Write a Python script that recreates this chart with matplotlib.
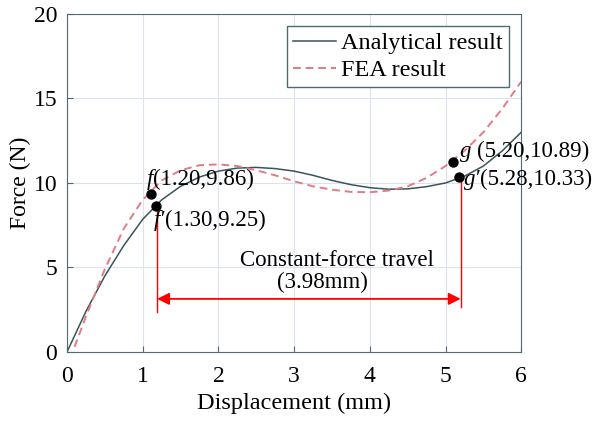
import matplotlib
matplotlib.use("Agg")
import matplotlib.pyplot as plt
import numpy as np

plt.rcParams['font.family'] = ['Liberation Serif', 'DejaVu Serif']

# analytical curve
x_ana = [0, 0.25, 0.5, 0.75, 1.0, 1.25, 1.5, 1.75, 2.0, 2.25, 2.5, 2.75, 3.0,
         3.25, 3.5, 3.75, 4.0, 4.25, 4.5, 4.75, 5.0, 5.25, 5.5, 5.75, 6.0]
y_ana = [0, 2.4, 4.5, 6.3, 7.85, 9.0, 9.8, 10.35, 10.7, 10.88, 10.92, 10.85, 10.7,
         10.45, 10.15, 9.9, 9.72, 9.63, 9.65, 9.78, 10.0, 10.4, 11.0, 11.9, 13.0]

# FEA curve
x_fea = [0.1, 0.25, 0.5, 0.75, 1.0, 1.25, 1.5, 1.75, 2.0, 2.25, 2.5, 2.75, 3.0,
         3.25, 3.5, 3.75, 4.0, 4.25, 4.5, 4.75, 5.0, 5.25, 5.5, 5.75, 6.0]
y_fea = [0.3, 2.1, 4.9, 7.3, 9.0, 10.15, 10.75, 11.05, 11.1, 11.0, 10.75, 10.45, 10.1,
         9.8, 9.6, 9.47, 9.45, 9.55, 9.8, 10.3, 11.0, 11.9, 13.0, 14.4, 16.0]

# marked points as drawn
pt_x = [1.11, 1.18, 5.1, 5.18]
pt_y = [9.35, 8.64, 11.24, 10.35]
pt_names = ["f", "f\u2032", "g ", "g\u2032"]
pt_coords = ["(1.20,9.86)", "(1.30,9.25)", "(5.20,10.89)", "(5.28,10.33)"]
lab_x = [1.05, 1.15, 5.19, 5.24]
lab_y = [10.2, 7.8, 11.85, 10.2]

travel_start = 1.19
travel_end = 5.2

fig = plt.figure(figsize=(6, 4.23), dpi=100)
ax = fig.add_axes([0.1117, 0.168, 0.757, 0.799])

spine_col = '#4f6a70'
ax.plot(x_ana, y_ana, color='#3a5458', lw=1.1, label='Analytical result')
ax.plot(x_fea, y_fea, color='#e07c84', lw=1.4, ls=(0, (4, 2.5)), label='FEA result')

ax.scatter(pt_x, pt_y, s=42, color='black', zorder=5)
for lx, ly, nm, cc in zip(lab_x, lab_y, pt_names, pt_coords):
    t1 = ax.text(lx, ly, nm, fontsize=16.5, style='italic', va='center', ha='left', zorder=6)
    ax.annotate(cc, xy=(1, 0.5), xycoords=t1, fontsize=16.5, va='center', ha='left',
                zorder=6)

# constant-force travel
ax.plot([travel_start, travel_start], [pt_y[1], 2.37], color='red', lw=1)
ax.plot([travel_end, travel_end], [pt_y[3], 2.66], color='red', lw=1)
ax.annotate('', xy=(travel_start, 3.14), xytext=(travel_end, 3.14),
            arrowprops=dict(arrowstyle='<|-|>', color='red', lw=1.3,
                            mutation_scale=18, shrinkA=0, shrinkB=0))
ax.text(3.57, 5.44, 'Constant-force travel', fontsize=16.5, ha='center', va='center')
ax.text(3.38, 4.14, '(3.98mm)', fontsize=16.5, ha='center', va='center')

ax.set_xlim(0, 6)
ax.set_ylim(0, 20)
ax.set_xticks(np.arange(0, 7, 1))
ax.set_yticks([0, 5, 10, 15, 20])
ax.grid(True, color='#dbe4ee', lw=0.8)
ax.set_axisbelow(True)
ax.tick_params(direction='in', labelsize=17, colors=spine_col, labelcolor='black',
               length=4, pad=7)
ax.tick_params(axis='x', pad=10)
for s in ax.spines.values():
    s.set_color(spine_col)
ax.set_xlabel('Displacement (mm)', fontsize=17.5, labelpad=4)
ax.set_ylabel('Force (N)', fontsize=17, labelpad=2)

leg = ax.legend(loc='upper right', fontsize=17.5, fancybox=False, framealpha=1,
                edgecolor=spine_col, borderaxespad=0.5, handlelength=1.8,
                borderpad=0.25, labelspacing=0.2, handletextpad=0.2)
leg.get_frame().set_linewidth(1.0)

fig.savefig('out.png', dpi=100)
